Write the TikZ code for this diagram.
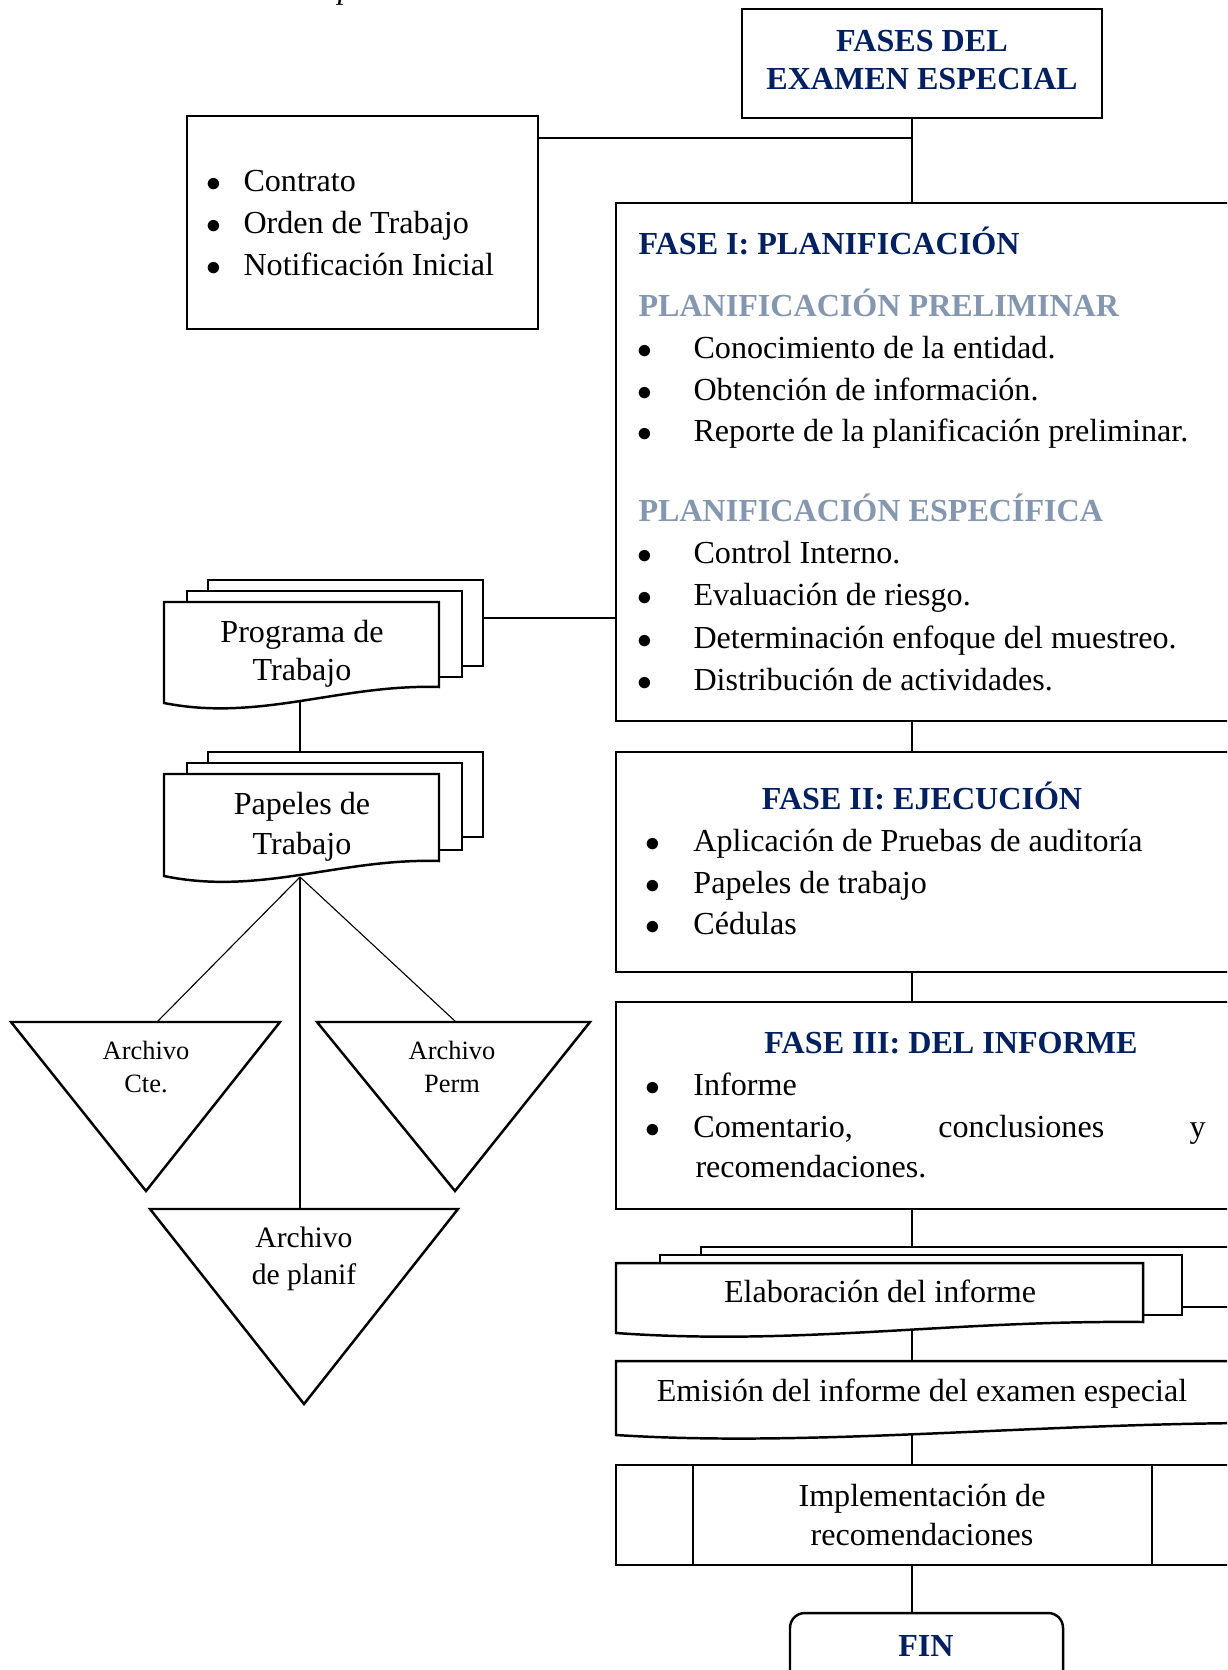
\documentclass[tikz,border=0pt]{standalone}
\usepackage{fontspec}
\setmainfont{Liberation Serif}
\usetikzlibrary{positioning, fit}
\definecolor{azulosc}{HTML}{002060}
\definecolor{grisazul}{HTML}{8496B0}
\newcommand{\vineta}[2]{\makebox[#1][l]{$\bullet$}#2}

\begin{document}
\begin{tikzpicture}[x=0.405pt, y=-0.405pt]
	\tikzstyle{caja} = [draw=black, line width=1pt, inner sep=0pt]
	\tikzstyle{hoja} = [draw=black, line width=1pt, fill=white, inner sep=0pt]
	\tikzstyle{linea} = [line width=0.8pt]
	\tikzstyle{fina} = [line width=0.45pt]
	\tikzstyle{texto} = [inner sep=0pt, font=\fontsize{13}{15.5}\selectfont]
	\tikzstyle{titulo} = [inner sep=0pt, font=\fontsize{13}{15.5}\selectfont\bfseries, text=azulosc]
	\tikzstyle{subtitulo} = [inner sep=0pt, font=\fontsize{13}{15.5}\selectfont\bfseries, text=grisazul]
	\tikzstyle{renglon} = [texto, anchor=mid west]
	
	\useasboundingbox (0,0) rectangle (1227,1670);
	\clip (0,0) rectangle (1227,1670);
	\fill[white] (0,0) rectangle (1227,1670);
	
	% resto del titulo de la figura
	\node (leyenda) [inner sep=0pt, anchor=base, font=\fontsize{13}{15}\selectfont\itshape] at (346,-1) {p};
	
	% cajas de la derecha
	\node (tit) [caja, fit={(742,9) (1102,118)}] {};
	\node (titT) [titulo, align=center] at (922,60) {FASES DEL\\EXAMEN ESPECIAL};
	
	\node (cont) [caja, fit={(187,116) (538,329)}] {};
	\node (c1) [renglon] at (206,186) {\vineta{15pt}{Contrato}};
	\node (c2) [renglon] at (206,228) {\vineta{15pt}{Orden de Trabajo}};
	\node (c3) [renglon] at (206,270) {\vineta{15pt}{Notificación Inicial}};
	
	\node (f1) [caja, fit={(616,203) (1260,721)}] {};
	\node (f1t) [titulo, anchor=mid west] at (638,249) {FASE I: PLANIFICACIÓN};
	\node (f1s1) [subtitulo, anchor=mid west] at (638,311) {PLANIFICACIÓN PRELIMINAR};
	\node (f1a) [renglon] at (637,353) {\vineta{22.7pt}{Conocimiento de la entidad.}};
	\node (f1b) [renglon] at (637,395) {\vineta{22.7pt}{Obtención de información.}};
	\node (f1c) [renglon] at (637,436) {\vineta{22.7pt}{Reporte de la planificación preliminar.}};
	\node (f1s2) [subtitulo, anchor=mid west] at (638,516) {PLANIFICACIÓN ESPECÍFICA};
	\node (f1d) [renglon] at (637,558) {\vineta{22.7pt}{Control Interno.}};
	\node (f1e) [renglon] at (637,600) {\vineta{22.7pt}{Evaluación de riesgo.}};
	\node (f1f) [renglon] at (637,643) {\vineta{22.7pt}{Determinación enfoque del muestreo.}};
	\node (f1g) [renglon] at (637,685) {\vineta{22.7pt}{Distribución de actividades.}};
	
	\node (f2) [caja, fit={(616,752) (1260,972)}] {};
	\node (f2t) [titulo, anchor=mid] at (922,804) {FASE II: EJECUCIÓN};
	\node (f2a) [renglon] at (645,846) {\vineta{19.4pt}{Aplicación de Pruebas de auditoría}};
	\node (f2b) [renglon] at (645,888) {\vineta{19.4pt}{Papeles de trabajo}};
	\node (f2c) [renglon] at (645,929) {\vineta{19.4pt}{Cédulas}};
	
	\node (f3) [caja, fit={(616,1002) (1260,1209)}] {};
	\node (f3t) [titulo, anchor=mid] at (951,1048) {FASE III: DEL INFORME};
	\node (f3a) [renglon] at (645,1090) {\vineta{19.4pt}{Informe}};
	\node (f3b) [renglon] at (645,1132) {\vineta{19.4pt}{\makebox[207.5pt][s]{Comentario,\hfill conclusiones\hfill y}}};
	\node (f3c) [renglon] at (695,1172) {recomendaciones.};
	
	% elaboracion del informe (varias hojas)
	\node (elabB) [hoja, fit={(701,1247) (1260,1307)}] {};
	\node (elabM) [hoja, fit={(660,1255) (1182,1315)}] {};
	\draw [hoja] (616,1263) -- (1143,1263) -- (1143,1322) .. controls (950,1320) and (800,1346) .. (616,1333) -- cycle;
	\node (elab) [texto, anchor=mid] at (880,1297) {Elaboración del informe};
	\coordinate (elabbot) at (912,1329);
	
	\draw [hoja] (616,1361) -- (1300,1361) -- (1300,1423) .. controls (1050,1421) and (820,1448) .. (616,1435) -- cycle;
	\node (emis) [texto, anchor=mid] at (922,1396) {Emisión del informe del examen especial};
	\coordinate (emistop) at (912,1361);
	\coordinate (emisbot) at (912,1433);
	
	\node (impl) [caja, fit={(616,1465) (1260,1565)}] {};
	\draw [line width=1pt] (693,1465) -- (693,1565);
	\draw [line width=1pt] (1152,1465) -- (1152,1565);
	\node (implT) [texto, align=center] at (922,1515) {Implementación de\\recomendaciones};
	
	\node (fin) [caja, rounded corners=6pt, fit={(790,1613) (1063,1720)}] {};
	\node (finT) [titulo, anchor=mid] at (926,1651) {FIN};
	
	% conectores del eje
	\coordinate (sp) at (912,0);
	\coordinate (cj) at ([yshift=-9.5pt]cont.north east);
	\draw [linea] (sp |- tit.south) -- (sp |- f1.north);
	\draw [linea] (cj) -- (sp |- cj);
	\draw [linea] (sp |- f1.south) -- (sp |- f2.north);
	\draw [linea] (sp |- f2.south) -- (sp |- f3.north);
	\draw [linea] (sp |- f3.south) -- (sp |- elabB.north);
	\draw [linea] (elabbot) -- (emistop);
	\draw [linea] (emisbot) -- (sp |- impl.north);
	\draw [linea] (sp |- impl.south) -- (sp |- fin.north);
	
	% programa de trabajo
	\node (progB) [hoja, fit={(208,580) (483,666)}] {};
	\node (progM) [hoja, fit={(187,591) (462,677)}] {};
	\draw [hoja] (164,602) -- (439,602) -- (439,687) .. controls (340,684) and (260,722) .. (164,703) -- cycle;
	\node (prog) [texto, align=center, font=\fontsize{13}{15.5}\selectfont] at (302,654) {Programa de\\Trabajo};
	\coordinate (progbot) at (300,701);
	\draw [linea] ([yshift=2pt]progB.east) -- ([yshift=2pt]progB.east -| f1.west);
	
	% papeles de trabajo
	\node (papB) [hoja, fit={(208,752) (483,837)}] {};
	\node (papM) [hoja, fit={(187,763) (462,850)}] {};
	\draw [hoja] (164,774) -- (439,774) -- (439,861) .. controls (340,858) and (260,896) .. (164,876) -- cycle;
	\node (pap) [texto, align=center, font=\fontsize{13}{16}\selectfont] at (302,827) {Papeles de\\Trabajo};
	\coordinate (papbot) at (300,877);
	\draw [fina] (progbot) -- (progbot |- papB.north);
	
	% archivos
	\draw [line width=1pt] (11,1022) -- (280,1022) -- (146,1191) -- cycle;
	\node (cte) [texto, align=center, font=\fontsize{10.7}{13.4}\selectfont] at (146,1067) {Archivo\\Cte.};
	\coordinate (cteTop) at (157,1022);
	
	\draw [line width=1pt] (317,1022) -- (590,1022) -- (455,1191) -- cycle;
	\node (perm) [texto, align=center, font=\fontsize{10.7}{13.4}\selectfont] at (452,1067) {Archivo\\Perm};
	\coordinate (permTop) at (456,1022);
	
	\draw [line width=1pt] (150,1209) -- (458,1209) -- (304,1404) -- cycle;
	\node (plan) [texto, align=center, font=\fontsize{12}{15}\selectfont] at (304,1259) {Archivo\\de planif};
	\coordinate (planTop) at (300,1209);
	
	\draw [fina] (papbot) -- (cteTop);
	\draw [fina] (papbot) -- (permTop);
	\draw [fina] (papbot) -- (planTop);
\end{tikzpicture}
\end{document}
